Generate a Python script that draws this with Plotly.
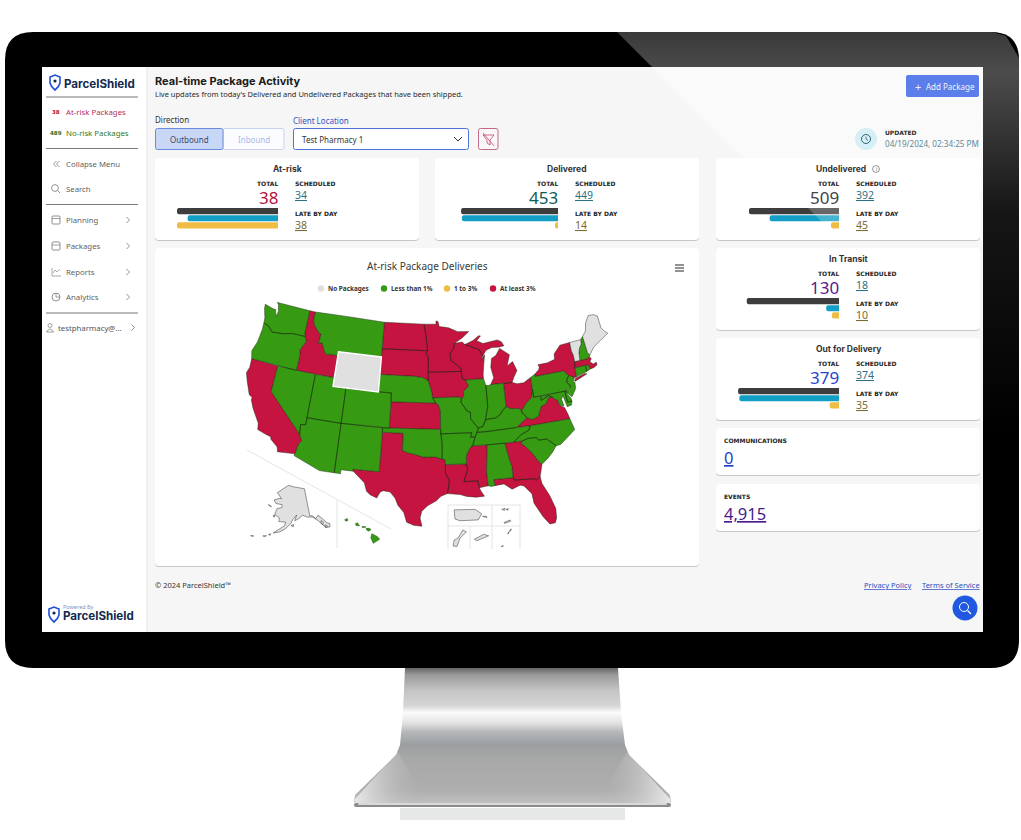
import plotly.graph_objects as go

W, H = 1021, 840
SANS = "Noto Sans"
HEAD = "Inter"
WIDE = "DejaVu Sans"

# package cards
card_names = ["At-risk", "Delivered", "Undelivered", "In Transit", "Out for Delivery"]
card_total = [38, 453, 509, 130, 379]
card_scheduled = [34, 449, 392, 18, 374]
card_late = [38, 14, 45, 10, 35]
card_axis_max = [41.4, 514, 622, 155, 413]
card_total_color = ["#b5103c", "#0d5c56", "#444444", "#5a1a8c", "#1f45d0"]
card_left = [155, 435, 716, 716, 716]
card_top = [158, 158, 158, 248, 338]
card_width = [264, 264, 264, 264, 264]
bar_right = [278, 558, 839, 839, 839]
title_center = [287, 567, 841, 848, 848]
bar_labels = ["total", "scheduled", "late"]
bar_colors = ["#3d3d3d", "#129ec5", "#efbd45"]

# states by legend class
no_packages = ["WY", "VT", "ME", "AK"]
less_than_1 = ["WA", "OR", "NV", "MT", "UT", "CO", "AZ", "NM", "NE", "OK", "MO", "AR", "IL", "IN",
               "KY", "TN", "AL", "SC", "NC", "WV", "PA", "NJ", "DE", "MD", "CT", "RI", "NH", "HI"]
one_to_3 = []
at_least_3 = ["CA", "ID", "ND", "SD", "MN", "IA", "WI", "MI", "KS", "TX", "LA", "MS", "GA", "FL",
              "OH", "NY", "VA", "MA"]
class_colors = {"none": "#e0e0e0", "low": "#369a12", "mid": "#efbd45", "high": "#c5143f"}
legend_labels = ["No Packages", "Less than 1%", "1 to 3%", "At least 3%"]

# simplified state outlines, lon/lat, one list per ring
STATE_RINGS = {
    "WA": [[(-124.7, 48.4), (-123.2, 48.15), (-122.75, 48.15), (-122.4, 47.4), (-122.2, 48.0), (-122.5, 48.75), (-122.8, 49), (-117.03, 49), (-117.04, 46.42), (-116.92, 45.99), (-118.98, 46), (-119.3, 45.93), (-120.5, 45.7), (-121.2, 45.65), (-122.3, 45.55), (-122.8, 45.9), (-123.2, 46.15), (-124, 46.27), (-124.1, 46.9), (-124.6, 47.9)]],
    "OR": [[(-124, 46.27), (-123.2, 46.15), (-122.8, 45.9), (-122.3, 45.55), (-121.2, 45.65), (-120.5, 45.7), (-119.3, 45.93), (-118.98, 46), (-116.92, 45.99), (-116.5, 45.5), (-116.85, 44.95), (-117.2, 44.4), (-117.03, 43.8), (-117.03, 42), (-124.2, 42), (-124.55, 42.85), (-124.1, 44), (-123.95, 45.5)]],
    "CA": [[(-124.2, 42), (-120, 42), (-120, 39), (-114.63, 35), (-114.14, 34.3), (-114.5, 33.9), (-114.72, 32.72), (-117.12, 32.53), (-117.3, 33.05), (-118.4, 33.75), (-118.5, 34.03), (-119.2, 34.15), (-120.5, 34.45), (-120.65, 35.15), (-121.9, 36.6), (-122.5, 37.5), (-122.5, 37.8), (-123, 38), (-123.8, 39.3), (-124.35, 40.3), (-124.1, 41)]],
    "NV": [[(-120, 42), (-114.04, 42), (-114.04, 36.2), (-114.75, 36.1), (-114.63, 35), (-120, 39)]],
    "ID": [[(-117.03, 49), (-116.05, 49), (-116.05, 48), (-115.7, 47.45), (-114.7, 46.7), (-114.35, 46.65), (-114.5, 45.55), (-113.9, 45.65), (-113.45, 44.95), (-113, 44.45), (-112.3, 44.55), (-111.5, 44.55), (-111.05, 44.48), (-111.05, 42), (-117.03, 42), (-117.03, 43.8), (-117.2, 44.4), (-116.85, 44.95), (-116.5, 45.5), (-116.92, 45.99), (-117.04, 46.42)]],
    "MT": [[(-116.05, 49), (-104.05, 49), (-104.05, 45), (-111.05, 45), (-111.05, 44.48), (-111.5, 44.55), (-112.3, 44.55), (-113, 44.45), (-113.45, 44.95), (-113.9, 45.65), (-114.5, 45.55), (-114.35, 46.65), (-114.7, 46.7), (-115.7, 47.45), (-116.05, 48)]],
    "WY": [[(-111.05, 45), (-104.05, 45), (-104.05, 41), (-111.05, 41)]],
    "UT": [[(-114.04, 42), (-111.05, 42), (-111.05, 41), (-109.05, 41), (-109.05, 37), (-114.04, 37)]],
    "CO": [[(-109.05, 41), (-102.05, 41), (-102.05, 37), (-109.05, 37)]],
    "AZ": [[(-114.04, 37), (-109.05, 37), (-109.05, 31.33), (-111.07, 31.33), (-114.81, 32.5), (-114.72, 32.72), (-114.5, 33.9), (-114.14, 34.3), (-114.63, 35), (-114.75, 36.1), (-114.04, 36.2)]],
    "NM": [[(-109.05, 37), (-103, 37), (-103.04, 32), (-106.62, 32), (-106.53, 31.78), (-108.2, 31.78), (-108.2, 31.33), (-109.05, 31.33)]],
    "ND": [[(-104.05, 49), (-97.23, 49), (-96.85, 47.6), (-96.56, 45.94), (-104.05, 45.94)]],
    "SD": [[(-104.05, 45.94), (-96.56, 45.94), (-96.85, 45.6), (-96.45, 45.3), (-96.45, 43.5), (-96.45, 42.5), (-97.2, 42.85), (-98.5, 43), (-104.05, 43)]],
    "NE": [[(-104.05, 43), (-98.5, 43), (-97.2, 42.85), (-96.45, 42.5), (-96.1, 41.7), (-95.9, 41.2), (-95.77, 40.58), (-95.3, 40), (-102.05, 40), (-102.05, 41), (-104.05, 41)]],
    "KS": [[(-102.05, 40), (-95.3, 40), (-94.9, 39.8), (-94.6, 39.1), (-94.62, 37), (-102.05, 37)]],
    "OK": [[(-103, 37), (-94.62, 37), (-94.43, 35.4), (-94.48, 33.64), (-95.5, 33.9), (-96.6, 33.85), (-97.2, 33.9), (-98.1, 34.13), (-99.2, 34.3), (-100, 34.56), (-100, 36.5), (-103, 36.5)]],
    "TX": [[(-106.62, 32), (-103.04, 32), (-103, 36.5), (-100, 36.5), (-100, 34.56), (-99.2, 34.3), (-98.1, 34.13), (-97.2, 33.9), (-96.6, 33.85), (-95.5, 33.9), (-94.48, 33.64), (-94.04, 33.55), (-94.04, 32), (-93.55, 31.2), (-93.7, 30.3), (-93.85, 29.7), (-94.7, 29.4), (-95.3, 28.9), (-96.4, 28.35), (-97.2, 27.7), (-97.4, 26.9), (-97.15, 25.96), (-98.2, 26.05), (-99.1, 26.4), (-99.5, 27.5), (-100.3, 28.3), (-100.7, 29.1), (-101.4, 29.77), (-102.3, 29.87), (-102.7, 29.7), (-103.1, 28.98), (-104, 29.3), (-104.5, 29.65), (-104.9, 30.6), (-106, 31.4), (-106.53, 31.78)]],
    "MN": [[(-97.23, 49), (-95.15, 49), (-95.15, 49.38), (-94.8, 49.3), (-94.6, 48.72), (-93, 48.55), (-91.5, 48.07), (-89.6, 48), (-90.8, 47.3), (-92.1, 46.75), (-92.3, 46.1), (-92.9, 45.6), (-92.75, 44.75), (-91.9, 44.3), (-91.25, 43.85), (-91.22, 43.5), (-96.45, 43.5), (-96.45, 45.3), (-96.85, 45.6), (-96.56, 45.94), (-96.85, 47.6)]],
    "IA": [[(-96.45, 43.5), (-91.22, 43.5), (-91.1, 42.7), (-90.64, 42.5), (-90.15, 41.8), (-91.05, 41.2), (-91, 40.7), (-91.42, 40.38), (-91.73, 40.61), (-95.77, 40.58), (-95.9, 41.2), (-96.1, 41.7), (-96.45, 42.5)]],
    "MO": [[(-95.77, 40.58), (-91.73, 40.61), (-91.42, 40.38), (-91.5, 40), (-91, 39.4), (-90.7, 39), (-90.15, 38.8), (-90.2, 38.1), (-89.5, 37.3), (-89.15, 37), (-89.4, 36.5), (-89.7, 36), (-90.37, 36), (-90.15, 36.5), (-94.62, 36.5), (-94.62, 37), (-94.6, 39.1), (-94.9, 39.8), (-95.3, 40)]],
    "AR": [[(-94.62, 36.5), (-90.15, 36.5), (-90.37, 36), (-89.7, 36), (-90.1, 35.1), (-90.6, 34.7), (-91.1, 33.9), (-91.17, 33), (-94.04, 33), (-94.04, 33.55), (-94.48, 33.64), (-94.43, 35.4)]],
    "LA": [[(-94.04, 33), (-91.17, 33), (-91, 32.4), (-91.6, 31), (-89.73, 31), (-89.6, 30.2), (-89.4, 29.8), (-89, 29.2), (-90.1, 29.15), (-91.3, 29.3), (-92.2, 29.55), (-93.85, 29.7), (-93.7, 30.3), (-93.55, 31.2), (-94.04, 32)]],
    "MS": [[(-91.17, 33), (-91.1, 33.9), (-90.6, 34.7), (-90.3, 35), (-88.2, 35), (-88.1, 34.9), (-88.47, 31.9), (-88.4, 30.35), (-89.6, 30.2), (-89.73, 31), (-91.6, 31), (-91, 32.4)]],
    "AL": [[(-88.2, 35), (-85.6, 35), (-85.18, 32.87), (-85, 32.3), (-85, 31), (-87.6, 31), (-87.5, 30.3), (-88, 30.25), (-88.4, 30.35), (-88.47, 31.9), (-88.1, 34.9)]],
    "GA": [[(-85.6, 35), (-83.1, 35), (-83.35, 34.7), (-82.9, 34.45), (-82, 33.5), (-81.4, 32.6), (-80.9, 32.05), (-81.4, 30.7), (-82.05, 30.36), (-82.2, 30.57), (-84.86, 30.7), (-85, 31), (-85, 32.3), (-85.18, 32.87)]],
    "FL": [[(-87.6, 31), (-85, 31), (-84.86, 30.7), (-82.2, 30.57), (-82.05, 30.36), (-81.4, 30.7), (-81.3, 29.9), (-80.55, 28.4), (-80.05, 26.8), (-80.15, 25.7), (-80.4, 25.2), (-81.1, 25.15), (-81.8, 26.1), (-82.7, 27.8), (-82.8, 28.9), (-83.7, 29.9), (-84.2, 30.05), (-85.3, 29.7), (-86.3, 30.4), (-87.5, 30.3)]],
    "SC": [[(-83.35, 34.7), (-83.1, 35), (-82.3, 35.2), (-81.05, 35.15), (-80.8, 34.82), (-79.67, 34.8), (-78.55, 33.86), (-79.2, 33.2), (-80, 32.6), (-80.9, 32.05), (-81.4, 32.6), (-82, 33.5), (-82.9, 34.45)]],
    "NC": [[(-84.32, 35), (-83.1, 35), (-82.3, 35.2), (-81.05, 35.15), (-80.8, 34.82), (-79.67, 34.8), (-78.55, 33.86), (-77.9, 33.9), (-76.5, 34.7), (-75.55, 35.25), (-75.9, 36.55), (-81.68, 36.59), (-82, 36.1), (-83.1, 35.75)]],
    "TN": [[(-90.3, 35), (-88.2, 35), (-85.6, 35), (-84.32, 35), (-83.1, 35.75), (-82, 36.1), (-81.68, 36.59), (-83.67, 36.6), (-88.05, 36.5), (-89.4, 36.5), (-89.7, 36), (-90.1, 35.1)]],
    "KY": [[(-89.4, 36.5), (-88.05, 36.5), (-83.67, 36.6), (-82.8, 37.1), (-81.97, 37.54), (-82.6, 38.17), (-82.6, 38.4), (-83, 38.7), (-84.2, 38.8), (-84.82, 39.1), (-85.4, 38.7), (-85.8, 38.27), (-86.5, 37.95), (-87.6, 37.9), (-88.05, 37.8), (-88.5, 37.1), (-89.15, 37)]],
    "VA": [[(-83.67, 36.6), (-81.68, 36.59), (-75.9, 36.55), (-76, 37), (-76.3, 37.9), (-77, 38.3), (-77.05, 38.85), (-77.5, 39.1), (-77.75, 39.32), (-78.35, 39.4), (-78.9, 38.75), (-79.65, 38.55), (-80.3, 37.5), (-81.25, 37.25), (-81.97, 37.54), (-82.8, 37.1)]],
    "WV": [[(-81.97, 37.54), (-81.25, 37.25), (-80.3, 37.5), (-79.65, 38.55), (-78.9, 38.75), (-78.35, 39.4), (-77.75, 39.32), (-78.35, 39.62), (-79.48, 39.2), (-79.48, 39.72), (-80.52, 39.72), (-80.52, 40.64), (-80.85, 39.7), (-81.75, 39.2), (-82.6, 38.4), (-82.6, 38.17)]],
    "MD": [[(-79.48, 39.72), (-75.79, 39.72), (-75.7, 38.46), (-75.05, 38.45), (-75.25, 38.03), (-75.9, 37.95), (-76.2, 39.3), (-76.5, 38.9), (-76.35, 38.1), (-77, 38.3), (-77.05, 38.85), (-77.5, 39.1), (-77.75, 39.32), (-78.35, 39.62), (-79.48, 39.2)]],
    "DE": [[(-75.79, 39.72), (-75.45, 39.8), (-75.55, 39.45), (-75.1, 38.8), (-75.05, 38.45), (-75.7, 38.46)]],
    "PA": [[(-80.52, 41.98), (-79.76, 42.27), (-79.76, 42), (-75.35, 42), (-74.7, 41.36), (-75.1, 40.95), (-75.2, 40.65), (-74.72, 40.15), (-75.45, 39.8), (-75.79, 39.72), (-80.52, 39.72)]],
    "NJ": [[(-74.7, 41.36), (-73.9, 41), (-74.25, 40.5), (-74, 40.45), (-74.1, 39.75), (-74.9, 38.93), (-75.5, 39.5), (-75.55, 39.6), (-74.72, 40.15), (-75.2, 40.65), (-75.1, 40.95)]],
    "NY": [[(-79.76, 42.27), (-79.05, 42.7), (-78.9, 43), (-79.05, 43.27), (-77.5, 43.27), (-76.3, 43.5), (-76.2, 44.1), (-75, 44.95), (-73.35, 45), (-73.4, 44), (-73.25, 43.5), (-73.28, 42.75), (-73.5, 42.05), (-73.5, 41.3), (-73.65, 41), (-73.9, 41), (-74.7, 41.36), (-75.35, 42), (-79.76, 42)],
           [(-74, 40.6), (-73.75, 40.88), (-72.3, 41.15), (-71.9, 41.07), (-73.9, 40.55)]],
    "CT": [[(-73.5, 42.05), (-71.8, 42.02), (-71.85, 41.32), (-73.65, 41), (-73.5, 41.3)]],
    "RI": [[(-71.8, 42.02), (-71.38, 42.02), (-71.2, 41.5), (-71.85, 41.32)]],
    "MA": [[(-73.5, 42.05), (-73.28, 42.75), (-71.3, 42.7), (-70.9, 42.88), (-70.65, 42.6), (-71, 42.3), (-70.6, 41.95), (-70.05, 42.05), (-70.05, 41.75), (-70.6, 41.55), (-71.2, 41.5), (-71.38, 42.02), (-71.8, 42.02)]],
    "VT": [[(-73.35, 45), (-71.5, 45.01), (-71.6, 44.5), (-72.05, 44.1), (-72.3, 43.6), (-72.46, 42.73), (-73.28, 42.75), (-73.25, 43.5), (-73.4, 44)]],
    "NH": [[(-71.5, 45.01), (-71.08, 45.3), (-70.98, 43.4), (-70.7, 43.05), (-70.9, 42.88), (-71.3, 42.7), (-72.46, 42.73), (-72.3, 43.6), (-72.05, 44.1), (-71.6, 44.5)]],
    "ME": [[(-71.08, 45.3), (-70.4, 45.8), (-70, 46.7), (-69.25, 47.45), (-68.3, 47.35), (-67.8, 47.07), (-67.8, 45.7), (-67.45, 45.2), (-67, 44.85), (-68.5, 44.3), (-69.8, 43.8), (-70.7, 43.05), (-70.98, 43.4)]],
    "OH": [[(-84.8, 41.7), (-83.45, 41.73), (-82.7, 41.5), (-81.7, 41.5), (-80.52, 41.98), (-80.52, 40.64), (-80.85, 39.7), (-81.75, 39.2), (-82.6, 38.4), (-83, 38.7), (-84.2, 38.8), (-84.82, 39.1)]],
    "IN": [[(-87.53, 41.72), (-87, 41.7), (-86.8, 41.76), (-84.8, 41.76), (-84.82, 39.1), (-85.4, 38.7), (-85.8, 38.27), (-86.5, 37.95), (-87.6, 37.9), (-88.05, 37.8), (-87.53, 39.35)]],
    "IL": [[(-90.64, 42.5), (-87.8, 42.5), (-87.53, 41.72), (-87.53, 39.35), (-88.05, 37.8), (-88.5, 37.1), (-89.15, 37), (-89.5, 37.3), (-90.2, 38.1), (-90.15, 38.8), (-90.7, 39), (-91, 39.4), (-91.5, 40), (-91.42, 40.38), (-91, 40.7), (-91.05, 41.2), (-90.15, 41.8)]],
    "MI": [[(-86.8, 41.76), (-84.8, 41.76), (-84.8, 41.7), (-83.45, 41.73), (-83.1, 42.25), (-82.45, 43), (-82.95, 44.07), (-83.9, 43.65), (-83.3, 44.9), (-84.75, 45.75), (-85.5, 45), (-86.25, 44.7), (-86.5, 43.7), (-86.2, 42.5)],
           [(-90.4, 46.55), (-89, 46.95), (-88, 47.45), (-87.7, 47.4), (-88.4, 46.9), (-87.4, 46.5), (-85, 46.75), (-84.35, 46.5), (-84, 46), (-84.75, 45.9), (-86, 45.95), (-87, 45.7), (-87.6, 45.1), (-88.1, 45.85), (-89.1, 46.15)]],
    "WI": [[(-92.1, 46.75), (-90.8, 46.85), (-90.4, 46.55), (-89.1, 46.15), (-88.1, 45.85), (-87.6, 45.1), (-87.95, 44.6), (-87.3, 45.2), (-87.55, 44.2), (-87.8, 43), (-87.8, 42.5), (-90.64, 42.5), (-91.1, 42.7), (-91.22, 43.5), (-91.25, 43.85), (-91.9, 44.3), (-92.75, 44.75), (-92.9, 45.6), (-92.3, 46.1)]],
}

# outlying areas: rings, lon/lat window, pixel cell
OUTLYING = {
    "HI": ("low", "#1d4f12", [[(-155.9, 20.25), (-155.1, 19.85), (-154.8, 19.5), (-155.7, 18.95), (-156.05, 19.7)],
           [(-156.7, 20.95), (-156.25, 20.95), (-156, 20.75), (-156.4, 20.58), (-156.7, 20.8)],
           [(-158.25, 21.55), (-157.95, 21.7), (-157.65, 21.3), (-158.1, 21.3)],
           [(-159.75, 22.1), (-159.4, 22.25), (-159.3, 22), (-159.6, 21.9)],
           [(-157.3, 21.2), (-156.75, 21.17), (-156.85, 21.05), (-157.3, 21.1)]],
           [-160, -154.6], [18.8, 22.4], (343, 381, 517, 545)),
    "PR": ("none", "#333333", [[(-67.25, 18.52), (-66, 18.55), (-65.6, 18.3), (-65.8, 17.95), (-66.9, 17.9), (-67.2, 18)], [(-65.55, 18.15), (-65.3, 18.16), (-65.3, 18.08)]],
           [-67.5, -65.1], [17.7, 18.7], (450, 490, 506, 525)),
    "VI": ("none", "#333333", [[(-65.02, 18.33), (-64.85, 18.38), (-64.88, 18.28)], [(-64.8, 18.33), (-64.68, 18.37), (-64.7, 18.29)], [(-64.9, 17.68), (-64.58, 17.8), (-64.56, 17.74), (-64.88, 17.63)]],
           [-65.1, -64.5], [17.55, 18.45], (494, 518, 507, 525)),
    "GU": ("none", "#333333", [[(144.62, 13.25), (144.72, 13.24), (144.8, 13.45), (144.96, 13.6), (144.87, 13.65), (144.75, 13.45), (144.65, 13.4)]],
           [144.55, 145.02], [13.2, 13.7], (450, 469, 528, 548)),
    "AS": ("none", "#333333", [[(-170.85, -14.35), (-170.65, -14.25), (-170.55, -14.28), (-170.8, -14.38)]],
           [-170.9, -170.5], [-14.45, -14.2], (472, 491, 531, 545)),
    "MP": ("none", "#333333", [[(145.7, 15.1), (145.82, 15.27), (145.75, 15.28), (145.68, 15.12)], [(145.58, 14.95), (145.65, 15.08), (145.6, 15.08)], [(145.12, 14.13), (145.28, 14.18), (145.2, 14.2)]],
           [145, 145.9], [14.05, 15.35], (494, 518, 528, 548)),
}
ALASKA_RINGS = [
    [(-141, 69.65), (-141, 60.3), (-139, 60), (-137.5, 58.9), (-135.5, 59.8), (-133.5, 58.4), (-131.5, 56.5), (-130, 55.9), (-130.5, 54.8), (-133, 55), (-134.5, 56.5), (-136.5, 58.1), (-139.5, 59.7), (-143, 60), (-146, 60.9), (-148, 60), (-151.5, 59.2), (-150, 61.1), (-153, 59.5), (-154, 58.3), (-158, 56.2), (-161, 55.2), (-164.5, 54.6), (-162, 55.8), (-158, 57.5), (-157.5, 58.7), (-162, 58.7), (-162, 60), (-165.5, 60.8), (-164.5, 63), (-161, 63.5), (-161, 64.5), (-166, 64.6), (-168, 65.65), (-164, 66.5), (-162, 66.5), (-166.5, 68.3), (-163, 69.5), (-156.5, 71.3), (-152, 70.8)],
    [(-154, 57.5), (-152.3, 58), (-152.5, 57.2)],
    [(-134.5, 57.8), (-133.5, 57), (-134.3, 56.2), (-135, 57)],
    [(-133, 56), (-131.8, 55.3), (-133, 55.1)],
    [(-176.5, 51.8), (-175, 52.1), (-175, 51.85)],
    [(-170, 52.9), (-168, 53.3), (-168.5, 52.9)],
    [(-167, 53.8), (-165.8, 54.2), (-166, 53.6)],
    [(-166.5, 60.3), (-165.2, 60.6), (-165.5, 59.9)],
    [(-171.5, 63.7), (-168.8, 63.3), (-170.5, 63.3)],
]

# stand and bezel colours, gradient stops run from the lowest pixel up
stand_stops = [[0, "#dddddd"], [0.03, "#c0c0c0"], [0.12, "#aeaeae"], [0.34, "#a8a8a8"], [0.45, "#9b9ea0"],
               [0.54, "#b5b8ba"], [0.61, "#e5e5e5"], [0.68, "#fbfbfb"], [0.73, "#d5d5d5"], [0.84, "#c4c4c4"],
               [0.95, "#9a9a9a"], [1, "#666666"]]
bezel_stops = [[0, "#000000"], [0.55, "#161616"], [0.9, "#4c4c4c"], [1, "#3a3a3a"]]

fig = go.Figure()
shapes = []
notes = []


def rrect(x0, y0, x1, y1, r):
    return (f"M{x0+r},{y0} L{x1-r},{y0} Q{x1},{y0} {x1},{y0+r} L{x1},{y1-r} Q{x1},{y1} {x1-r},{y1} "
            f"L{x0+r},{y1} Q{x0},{y1} {x0},{y1-r} L{x0},{y0+r} Q{x0},{y0} {x0+r},{y0} Z")


def box(x0, y0, x1, y1, fill, line=None, width=1, r=0, layer="below"):
    shapes.append(dict(type="path", xref="x", yref="y", path=rrect(x0, y0, x1, y1, r), fillcolor=fill,
                       line=dict(color=line or "rgba(0,0,0,0)", width=width if line else 0), layer=layer))


def path(d, color="#555555", width=1, fill="rgba(0,0,0,0)", layer="below"):
    shapes.append(dict(type="path", xref="x", yref="y", path=d, fillcolor=fill,
                       line=dict(color=color, width=width), layer=layer))


def dot(x, y, r, fill, line=None, width=1):
    shapes.append(dict(type="circle", xref="x", yref="y", x0=x-r, x1=x+r, y0=y-r, y1=y+r, fillcolor=fill,
                       line=dict(color=line or "rgba(0,0,0,0)", width=width if line else 0), layer="below"))


def hline(x0, x1, y, color="#777777", width=1):
    path(f"M{x0},{y} L{x1},{y}", color, width)


def txt(x, y, text, size=8, color="#333333", anchor="left", font=SANS):
    notes.append(dict(x=x, y=y, xref="x", yref="y", text=text, showarrow=False, xanchor=anchor, yanchor="middle",
                      borderpad=0, borderwidth=0, align=anchor, font=dict(family=font, size=size, color=color)))


def chevron(x, y, d=1, color="#777777"):
    path(f"M{x-1.5*d},{y-3} L{x+1.5*d},{y} L{x-1.5*d},{y+3}", color, 0.8)


def clockwise(ring):
    area = sum(a[0] * b[1] - b[0] * a[1] for a, b in zip(ring, ring[1:] + ring[:1]))
    return ring[::-1] if area > 0 else ring


def add_rings(rings, fill, line, width, geo="geo"):
    lons, lats = [], []
    for ring in rings:
        ring = clockwise(ring)
        lons += [p[0] for p in ring] + [ring[0][0], None]
        lats += [p[1] for p in ring] + [ring[0][1], None]
    fig.add_trace(go.Scattergeo(lon=lons[:-1], lat=lats[:-1], mode="lines", fill="toself", fillcolor=fill,
                                line=dict(color=line, width=width), hoverinfo="skip", showlegend=False, geo=geo))


# monitor
box(5, 32, 1019, 668, "#000000", r=28)
box(42, 67, 983, 632, "#f6f6f6")
path("M652,67 L983,67 L983,240 L825,240 Z", "rgba(0,0,0,0)", 0, "#fafafa")
box(42, 67, 147, 632, "#ffffff")
path("M147,67 L147,632", "#e2e2e2", 1)
box(400, 808, 625, 820, "#e6e8e8")

# glare on bezel and stand, drawn with gradient fills on the page axes
fig.add_trace(go.Scatter(
    x=[617, 992, 1006, 1019, 1019, 983, 983, 652, 617], y=[32, 32, 36, 58, 430, 430, 67, 67, 32],
    mode="lines", line=dict(width=0), fill="toself", hoverinfo="skip", showlegend=False,
    fillgradient=dict(type="vertical", colorscale=bezel_stops),
))
fig.add_trace(go.Scatter(
    x=[405, 618, 621, 625, 629, 670, 671, 665, 360, 354, 355, 396, 400, 403, 405],
    y=[668, 668, 712, 745, 755, 795, 802, 807, 807, 802, 795, 755, 745, 712, 668],
    mode="lines", line=dict(width=0), fill="toself", hoverinfo="skip", showlegend=False,
    fillgradient=dict(type="vertical", colorscale=stand_stops),
))
for wedge, fade in [(([355, 398, 428, 355], [799, 752, 803, 803]), [[0, "rgba(232,232,232,1)"], [1, "rgba(172,172,172,0)"]]),
                    (([670, 627, 597, 670], [799, 752, 803, 803]), [[0, "rgba(172,172,172,0)"], [1, "rgba(232,232,232,1)"]])]:
    fig.add_trace(go.Scatter(x=wedge[0], y=wedge[1], mode="lines", line=dict(width=0), fill="toself", hoverinfo="skip",
                             showlegend=False, fillgradient=dict(type="horizontal", colorscale=fade)))
box(354, 803, 671, 807, "#8b8b8b", r=2, layer="above")
box(358, 803, 667, 805, "#d9d9d9", r=1, layer="above")

# sidebar
path("M50,77 L55,75 L60,77 L60,83 Q59,87 55,90 Q51,87 50,83 Z", "#1f4fd8", 1.6, "#ffffff")
dot(55, 81, 1.6, "#12294f")
txt(64, 84, "<b>ParcelShield</b>", 11.6, "#12294f", font=HEAD)
hline(46, 138, 97)
txt(52, 112, "<b>38</b>", 5.5, "#b5103c", font=WIDE)
txt(66, 112, "At-risk Packages", 7.8, "#b5305a")
txt(50, 133, "<b>489</b>", 5.5, "#2d6a20", font=WIDE)
txt(66, 133, "No-risk Packages", 7.8, "#2f7a28")
hline(46, 138, 148.5)
side_items = ["Collapse Menu", "Search", "Planning", "Packages", "Reports", "Analytics"]
side_y = [164, 189, 220, 246, 272, 297]
for label, y in zip(side_items, side_y):
    txt(66, y, label, 7.8, "#5f5f5f")
hline(46, 138, 204.5)
hline(46, 138, 313)
chevron(55, 164, -1)
chevron(58, 164, -1)
dot(55, 188, 3.4, "#ffffff", "#777777", 0.8)
path("M57.5,190.5 L60,193", "#777777", 0.8)
box(52, 216, 60, 224, "#ffffff", "#777777", 0.8, 1)
hline(52, 60, 218.5, "#777777", 0.7)
box(52, 242, 60, 250, "#ffffff", "#777777", 0.8, 1)
hline(52, 60, 245, "#777777", 0.7)
path("M52,268 L52,276 L61,276 M53,273 L55,270 L57,272 L60,269", "#888888", 0.7)
dot(56, 297, 4, "#ffffff", "#777777", 0.8)
path("M56,293 L56,297 L60,297", "#777777", 0.7)
for y in side_y[2:]:
    chevron(128, y)
dot(50, 325.5, 2, "#ffffff", "#777777", 0.7)
path("M46.5,332 Q50,326 53.5,332 Z", "#777777", 0.7)
txt(58, 328, "testpharmacy@...", 7.8, "#555555")
chevron(133, 327.5)
txt(63, 607, "Powered By", 5.5, "#7f93c9")
path("M49,609 L54,607 L59,609 L59,615 Q58,619 54,622 Q50,619 49,615 Z", "#1f4fd8", 1.6, "#ffffff")
dot(54, 613, 1.6, "#12294f")
txt(63, 616, "<b>ParcelShield</b>", 11.6, "#12294f", font=HEAD)

# header row
txt(155, 81, "<b>Real-time Package Activity</b>", 11, "#1b1b1b", font=HEAD)
txt(155, 94, "Live updates from today's Delivered and Undelivered Packages that have been shipped.", 7.5, "#2a2a2a")
txt(155, 119, "Direction", 8, "#333333")
box(223, 128.5, 284, 149.5, "#fbfcff", "#c8d3ee", 1, 2)
txt(253.5, 139, "Inbound", 8, "#a9b8e6", "center")
box(155.5, 128.5, 223, 149.5, "#c9d7f7", "#6a8ae0", 1, 2)
txt(189, 139, "Outbound", 8, "#3c4a6a", "center")
txt(293, 120, "Client Location", 8, "#2f55c8")
box(293.5, 128.5, 468.5, 149.5, "#ffffff", "#4f74d8", 1, 2)
txt(302, 139, "Test Pharmacy 1", 8, "#333333")
path("M454,137 L458,141 L462,137", "#333333", 1)
box(478.5, 128.5, 498, 149.5, "#fbf7f8", "#c06a88", 1, 2)
path("M483,135 L494,135 L490,140 L490,145 L487,143 L487,140 Z M483,133 L494,146", "#b5305a", 0.7)
box(906, 75, 979, 97, "#5b7eea", r=2)
txt(918, 86, "+", 11, "#e8eeff", "center")
txt(926, 86, "Add Package", 8, "#f0f4ff")
dot(866, 139, 11, "#d6eff6")
dot(866, 139, 4.5, "#d6eff6", "#2f6676", 1)
path("M866,136.5 L866,139 L868,140.5", "#2f6676", 0.8)
txt(885, 132, "<b>UPDATED</b>", 6, "#2a2a2a", font=WIDE)
txt(979, 143, "04/19/2024, 02:34:25 PM", 8.1, "#5c8a99", "right")

# package cards
for i, name in enumerate(card_names):
    x0, y0, x1 = card_left[i], card_top[i], card_left[i] + card_width[i]
    box(x0, y0 + 1, x1, y0 + 83, "#c6c6c6", r=4)
    box(x0, y0, x1, y0 + 82, "#ffffff", r=4)
    txt(title_center[i], y0 + 11, f"<b>{name}</b>", 8.5, "#333333", "center", HEAD)
    right = bar_right[i]
    txt(right, y0 + 25, "<b>TOTAL</b>", 6, "#222222", "right", WIDE)
    txt(right, y0 + 39, str(card_total[i]), 17, card_total_color[i], "right")
    txt(right + 17, y0 + 25, "<b>SCHEDULED</b>", 6, "#222222", font=WIDE)
    txt(right + 17, y0 + 37, f"<u>{card_scheduled[i]}</u>", 10.5, "#2f7082")
    txt(right + 17, y0 + 55, "<b>LATE BY DAY</b>", 6, "#222222", font=WIDE)
    txt(right + 17, y0 + 67, f"<u>{card_late[i]}</u>", 10.5, "#7b6a32")
    xa, ya = f"x{i + 2}", f"y{i + 2}"
    fig.add_trace(go.Bar(y=bar_labels, x=[card_total[i], card_scheduled[i], card_late[i]], orientation="h",
                         marker=dict(color=bar_colors, cornerradius=2, line_width=0), hoverinfo="skip",
                         showlegend=False, xaxis=xa, yaxis=ya))
    fig.update_layout({
        f"xaxis{i + 2}": dict(domain=[(right - 110) / W, right / W], range=[card_axis_max[i], 0], visible=False,
                              anchor=ya, fixedrange=True),
        f"yaxis{i + 2}": dict(domain=[1 - (y0 + 71) / H, 1 - (y0 + 49.5) / H], visible=False, anchor=xa,
                              autorange="reversed", type="category", categoryorder="array",
                              categoryarray=bar_labels, fixedrange=True),
    })
dot(876, 169, 3.4, "#ffffff", "#666666", 0.7)
txt(876, 169, "i", 5, "#666666", "center")

# small counters
count_labels = ["COMMUNICATIONS", "EVENTS"]
count_values = ["0", "4,915"]
count_colors = ["#1f3fc0", "#4a1a8a"]
count_top = [428, 484]
for label, value, color, y0 in zip(count_labels, count_values, count_colors, count_top):
    box(716, y0 + 1, 980, y0 + 48, "#c6c6c6", r=4)
    box(716, y0, 980, y0 + 47, "#ffffff", r=4)
    txt(724, y0 + 12, f"<b>{label}</b>", 6, "#222222", font=WIDE)
    txt(724, y0 + 29, f"<u>{value}</u>", 16.5, color)

# map card
box(155, 249, 699, 567, "#c6c6c6", r=4)
box(155, 248, 699, 566, "#ffffff", r=4)
txt(427, 266, "At-risk Package Deliveries", 10, "#3a3a3a", "center")
for y in [265, 268, 271]:
    hline(675, 684, y, "#555555", 1.3)
legend_dot_x = [321, 384, 447, 493]
legend_dot_color = [class_colors["none"], class_colors["low"], class_colors["mid"], class_colors["high"]]
for label, x, color in zip(legend_labels, legend_dot_x, legend_dot_color):
    dot(x, 288.5, 3.2, color)
    txt(x + 7, 288.5, f"<b>{label}</b>", 6.4, "#333333")
inset_line = "#dddddd"
path("M247,450 L391,529", inset_line, 0.8)
path("M337,500 L337,548", inset_line, 0.8)
path("M448,505 L520,505 M448,505 L448,549 M520,505 L520,549 M492,505 L492,549 M448,526 L520,526 M470,526 L470,549",
     inset_line, 0.8)

# states
line_dark = "rgba(30,40,20,0.75)"
for group, key in [(at_least_3, "high"), (one_to_3, "mid"), (less_than_1, "low"), (no_packages, "none")]:
    rings = []
    for state in group:
        if state != "WY":
            rings += STATE_RINGS.get(state, [])
    if rings:
        add_rings(rings, class_colors[key], line_dark, 0.6)
add_rings(STATE_RINGS["WY"], class_colors["none"], "#ffffff", 1.4)

geo_off = dict(bgcolor="rgba(0,0,0,0)", showland=False, showlakes=False, showcoastlines=False, showcountries=False,
               showocean=False, showrivers=False, showsubunits=False, showframe=False)
geo_layouts = {"geo": dict(scope="usa", projection=dict(type="albers usa", scale=1),
                           domain=dict(x=[199 / W, 655 / W], y=[1 - 570.5 / H, 1 - 258.5 / H]), **geo_off)}
for i, (name, (key, line, rings, lon_range, lat_range, cell)) in enumerate(OUTLYING.items()):
    geo_id = f"geo{i + 2}"
    add_rings(rings, class_colors[key], line, 0.5, geo_id)
    geo_layouts[geo_id] = dict(projection=dict(type="mercator"), lonaxis=dict(range=lon_range),
                               lataxis=dict(range=lat_range),
                               domain=dict(x=[cell[0] / W, cell[1] / W], y=[1 - cell[3] / H, 1 - cell[2] / H]), **geo_off)
add_rings(ALASKA_RINGS, class_colors["none"], "#333333", 0.5, "geo8")
geo_layouts["geo8"] = dict(projection=dict(type="albers", rotation=dict(lon=-154), parallels=[55, 65]),
                           lonaxis=dict(range=[-178, -129]), lataxis=dict(range=[51, 72]),
                           domain=dict(x=[246 / W, 336 / W], y=[1 - 547 / H, 1 - 481 / H]), **geo_off)

# footer
txt(155, 585, "© 2024 ParcelShield™", 7.5, "#333333")
txt(864, 585, "<u>Privacy Policy</u>", 7.5, "#2f4fc0")
txt(980, 585, "<u>Terms of Service</u>", 7.5, "#2f4fc0", "right")
dot(965, 608, 12.5, "#2058e0")
dot(964, 607, 4.5, "#2058e0", "#ffffff", 1)
path("M967.5,610.5 L971,614", "#ffffff", 1.2)

# glass reflection across the Undelivered bars
path("M805,205 L840,205 L840,222 L822,222 Z", "rgba(0,0,0,0)", 0, "rgba(255,255,255,0.22)", "above")

fig.update_layout(
    width=W, height=H, margin=dict(l=0, r=0, t=0, b=0, pad=0), paper_bgcolor="#ffffff", plot_bgcolor="rgba(0,0,0,0)",
    showlegend=False, bargap=0.15, shapes=shapes, annotations=notes,
    xaxis=dict(domain=[0, 1], range=[0, W], visible=False, fixedrange=True),
    yaxis=dict(domain=[0, 1], range=[H, 0], visible=False, fixedrange=True),
    **geo_layouts,
)
fig.write_html("out.html", config=dict(displayModeBar=False),
               post_script="document.body.style.margin='0';")
